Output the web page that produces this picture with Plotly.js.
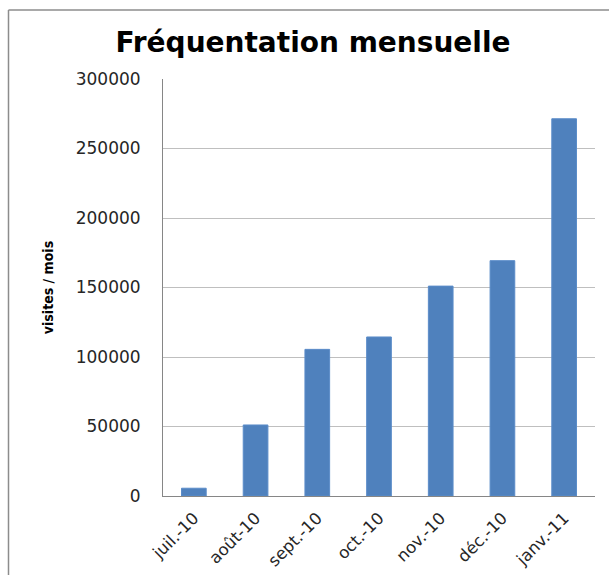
<!DOCTYPE html>
<html>
<head>
<meta charset="utf-8">
<script src="https://cdn.plot.ly/plotly-3.0.1.min.js"></script>
<style>
  html, body { margin: 0; padding: 0; background: #fff; }
  #chart { width: 609px; height: 575px; }
</style>
</head>
<body>
<div id="chart"></div>
<script>
const categories = ["juil.-10", "août-10", "sept.-10", "oct.-10", "nov.-10", "déc.-10", "janv.-11"];
const visits = [5600, 51100, 105500, 114400, 151000, 169300, 271400];
const yTicks = [0, 50000, 100000, 150000, 200000, 250000, 300000];
const yTickLabels = ["0", "50000", "100000", "150000", "200000", "250000", "300000"];

const L = 163, R = 14, T = 79, B = 79, W = 609, H = 575;
const pw = W - L - R, ph = H - T - B;
const px = v => (v - L) / pw;
const py = v => (H - B - v) / ph;

const trace = {
  type: "bar",
  x: categories,
  y: visits,
  marker: { color: "#4F81BD", line: { color: "#5B8CC9", width: 1 } },
  hoverinfo: "x+y"
};

const layout = {
  width: W, height: H,
  margin: { l: L, r: R, t: T, b: B, pad: 0 },
  paper_bgcolor: "#ffffff",
  plot_bgcolor: "#ffffff",
  showlegend: false,
  bargap: 0.6,
  title: {
    text: "<b>Fréquentation mensuelle</b>",
    font: { family: "DejaVu Sans", size: 28, color: "#000000" },
    x: 313 / W, xanchor: "center",
    y: 1 - 42 / H, yanchor: "middle"
  },
  xaxis: {
    type: "category",
    tickangle: -45,
    tickfont: { family: "DejaVu Sans", size: 16.5, color: "#262626" },
    showline: true, linecolor: "#868686", linewidth: 1,
    showgrid: false, ticks: "", zeroline: false,
    ticklabelstandoff: 5
  },
  yaxis: {
    range: [0, 300000],
    tickvals: yTicks,
    ticktext: yTickLabels,
    tickfont: { family: "DejaVu Sans", size: 17, color: "#262626" },
    showline: true, linecolor: "#868686", linewidth: 1,
    showgrid: true, gridcolor: "#BFBFBF", gridwidth: 1,
    zeroline: false, ticks: "",
    ticklabelstandoff: 18,
    title: {
      text: "<b>visites / mois</b>",
      font: { family: "DejaVu Sans Condensed, Liberation Sans Narrow, sans-serif", size: 14, color: "#000000" },
      standoff: 18
    }
  },
  shapes: [
    { type: "line", xref: "paper", yref: "paper",
      x0: px(8.5), x1: px(8.5), y0: py(10), y1: py(580),
      line: { color: "#8C8C8C", width: 1.5 } },
    { type: "line", xref: "paper", yref: "paper",
      x0: px(8.5), x1: px(615), y0: py(10), y1: py(10),
      line: { color: "#8C8C8C", width: 1.5 } }
  ]
};

Plotly.newPlot("chart", [trace], layout, { displayModeBar: false, staticPlot: true });
</script>
</body>
</html>
